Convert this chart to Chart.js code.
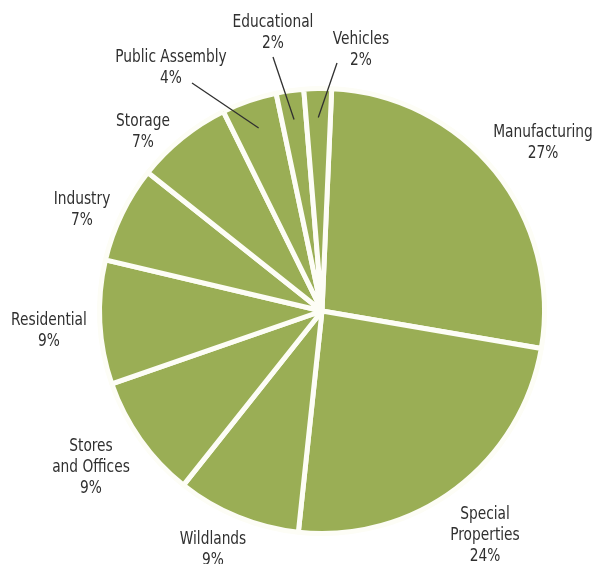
<!DOCTYPE html>
<html>
<head>
<meta charset="utf-8">
<script src="https://cdn.jsdelivr.net/npm/chart.js@4"></script>
<style>
  html, body { margin: 0; padding: 0; background: #fff; }
  #wrap { width: 595px; height: 564px; }
</style>
</head>
<body>
<div id="wrap"><canvas id="firePie" width="595" height="564"></canvas></div>
<script>
var categories = ['Manufacturing', 'Special Properties', 'Wildlands', 'Stores and Offices',
     'Residential', 'Industry', 'Storage', 'Public Assembly', 'Educational', 'Vehicles'];
var shares = [27, 24, 9, 9, 9, 7, 7, 4, 2, 2];
// how each name is broken into lines
var nameLines = [['Manufacturing'], ['Special', 'Properties'], ['Wildlands'], ['Stores', 'and Offices'],
     ['Residential'], ['Industry'], ['Storage'], ['Public Assembly'], ['Educational'], ['Vehicles']];

// label placement: text centre of first line, and optional leader start
var labelSpots = [
     {x: 543, y: 133},
     {x: 485, y: 515},
     {x: 213, y: 540},
     {x: 91, y: 447},
     {x: 49, y: 321},
     {x: 82, y: 200},
     {x: 143, y: 122},
     {x: 171, y: 58, lead: [192, 83]},
     {x: 273, y: 23, lead: [273, 57]},
     {x: 361, y: 40, lead: [337, 63]}
];

var FONT = '17px "Liberation Sans Narrow", "DejaVu Sans Condensed", "Arial Narrow", sans-serif';
var LINE = 21;
var SQUEEZE = 0.9;   // condensed look for the label face

var pieLabels = {
     id: 'pieLabels',
     afterDatasetsDraw: function (chart) {
          var ctx = chart.ctx;
          var arcs = chart.getDatasetMeta(0).data;
          ctx.save();
          ctx.font = FONT;
          ctx.fillStyle = '#303030';
          ctx.textAlign = 'center';
          ctx.textBaseline = 'middle';
          for (var i = 0; i < arcs.length; i++) {
               var spot = labelSpots[i];
               var lines = nameLines[i].concat([shares[i] + '%']);
               ctx.save();
               ctx.translate(spot.x, spot.y);
               ctx.scale(SQUEEZE, 1);
               for (var j = 0; j < lines.length; j++) {
                    ctx.fillText(lines[j], 0, j * LINE);
               }
               ctx.restore();
               if (spot.lead) {
                    var a = arcs[i];
                    var mid = (a.startAngle + a.endAngle) / 2;
                    var r = a.outerRadius * 0.87;
                    ctx.beginPath();
                    ctx.strokeStyle = '#303030';
                    ctx.lineWidth = 1.3;
                    ctx.moveTo(spot.lead[0], spot.lead[1]);
                    ctx.lineTo(a.x + Math.cos(mid) * r, a.y + Math.sin(mid) * r);
                    ctx.stroke();
               }
          }
          ctx.restore();
     }
};

window.onload = function () {
     var ctx = document.getElementById('firePie').getContext('2d');
     new Chart(ctx, {
          type: 'pie',
          data: {
               labels: categories,
               datasets: [{
                    data: shares,
                    backgroundColor: '#9aae55',
                    borderColor: '#fdfdf6',
                    borderWidth: 5
               }]
          },
          options: {
               responsive: false,
               animation: false,
               rotation: 2.5,
               layout: { padding: { left: 97, top: 86, right: 48, bottom: 28 } },
               plugins: {
                    legend: { display: false },
                    tooltip: { enabled: false }
               }
          },
          plugins: [pieLabels]
     });
};
</script>
</body>
</html>
